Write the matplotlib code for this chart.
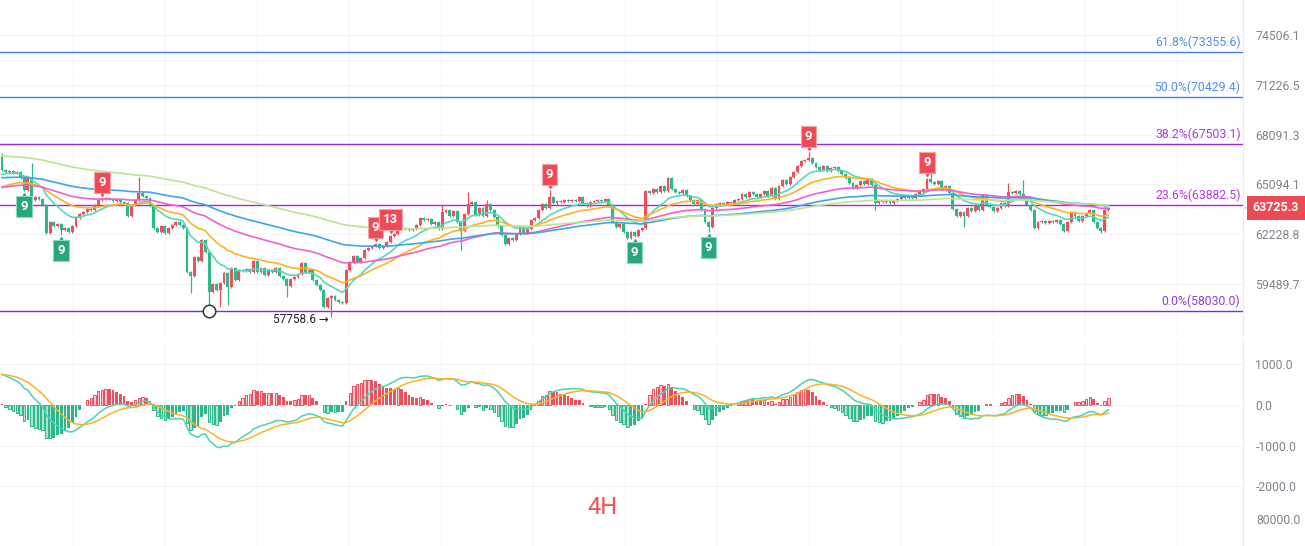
import numpy as np
import matplotlib.pyplot as plt
import matplotlib.transforms as mtransforms
from matplotlib.ticker import NullLocator

plt.rcParams['font.family'] = ['Roboto', 'DejaVu Sans']

# ---- data ----
open0 = 66730
closes = [
    65950, 65830, 65890, 65770, 65830, 65470, 64760, 65470, 64180, 64360,
    64240, 63890, 62300, 62920, 62690, 62800, 62460, 62580, 62350, 62690,
    63150, 63380, 63490, 63660, 63600, 63890, 64180, 64240, 64300, 64240,
    64120, 64180, 64070, 64010, 63260, 63890, 64180, 64590, 64410, 64300,
    63830, 62580, 62350, 62690, 62300, 62580, 62750, 62920, 62750, 62580,
    60140, 59920, 60960, 60740, 61900, 61230, 59060, 59490, 59170, 59540,
    60080, 59330, 60350, 59700, 60250, 60190, 60300, 60140, 60740, 60140,
    60350, 59970, 60250, 60140, 60350, 59920, 59760, 59380, 59760, 59870,
    60030, 60630, 60140, 60250, 59700, 59430, 59170, 58260, 58740, 58850,
    58630, 58530, 58470, 60250, 60680, 61010, 60680, 60900, 61350, 61460,
    61570, 61680, 61460, 61570, 61790, 62130, 62240, 62690, 62580, 62520,
    62460, 62520, 62750, 63150, 63030, 63090, 62800, 62920, 62520, 63490,
    63600, 63260, 63550, 62920, 62410, 63380, 63950, 64070, 63320, 63720,
    63260, 63950, 63600, 63200, 62690, 62180, 61680, 62010, 61900, 62240,
    62690, 62300, 62520, 63030, 63150, 63600, 63950, 63720, 64360, 64010,
    64120, 64070, 64180, 64120, 64180, 64120, 64360, 64010, 63830, 64070,
    64120, 64180, 64120, 64240, 63890, 62920, 62630, 62800, 62350, 62010,
    62350, 62130, 62460, 62580, 64710, 64590, 64820, 64650, 65000, 64710,
    65470, 64820, 64650, 64590, 64760, 64410, 64180, 63950, 64180, 63600,
    62920, 62630, 63720, 63950, 64010, 63950, 64070, 64010, 64180, 64240,
    64530, 64360, 64650, 64530, 64360, 64530, 64710, 64410, 64880, 64240,
    65000, 65350, 65120, 65530, 65830, 66190, 66490, 66550, 66670, 66370,
    66130, 65950, 66190, 65890, 66070, 66130, 65890, 65710, 65470, 65180,
    64880, 65060, 65290, 65120, 65410, 65060, 64010, 64180, 64070, 64180,
    64010, 64120, 64240, 64360, 64300, 64410, 64300, 64530, 64650, 64820,
    65410, 65240, 65120, 65290, 64760, 65000, 64590, 63660, 63260, 63490,
    63260, 63720, 63550, 63890, 63600, 64470, 63890, 63780, 63550, 63720,
    64010, 63830, 64650, 64590, 64710, 64530, 64240, 63890, 63600, 62580,
    62920, 62980, 62860, 62980, 62920, 63030, 62800, 62410, 62920, 63490,
    63260, 62980, 63260, 63430, 63600, 62920, 62580, 62410, 63600, 63725.3,
]
# long wicks (candle index -> price)
highs = {0: 66960, 8: 66370, 37: 65530, 119: 63890, 126: 64650, 131: 64180,
         148: 64760, 180: 65530, 218: 67030, 251: 65770, 272: 65180,
         276: 65350, 298: 63830}
lows = {16: 62180, 51: 59000, 56: 58260, 59: 58260, 61: 58370, 77: 58790,
        89: 57758.6, 124: 61345, 191: 62350, 236: 63600, 260: 62630,
        297: 62300}
low_label = "57758.6"
last_label = "63725.3"

# fibonacci retracement
fib_low, fib_high = 58030.0, 82828.7
fib_ratios = [0.618, 0.5, 0.382, 0.236, 0.0]
fib_colors = ['#3f82ee', '#3f82ee', '#9c27d6', '#b41fe6', '#7b2be0']
fib_anchor = 56

# TD sequential counts
td_sell_idx = [27, 101, 105, 148, 218, 250]
td_sell_txt = ['9', '9', '13', '9', '9', '9']
td_buy_idx = [6, 16, 171, 191]

# EMA periods / seeds at the left edge
ma_periods = [12, 26, 60, 99, 144]
ma_seeds = [65650, 64864, 64880, 65480, 66800]
ma_colors = ['#55d8bc', '#ffb224', '#f062c6', '#3ea6e6', '#bde396']
dea_seed = 737

price_ticks = [74506.1, 71226.5, 68091.3, 65094.1, 62228.8, 59489.7]
macd_ticks = [1000, 0, -1000, -2000]

UP = '#ef4f5c'
DN = '#2cb88b'


def ema(vals, n, seed):
    a = 2.0 / (n + 1)
    out = []
    e = seed
    for v in vals:
        e = e + a * (v - e)
        out.append(e)
    return np.array(out)


c = np.array(closes, dtype=float)
n = len(c)
idx = np.arange(n)
o = np.r_[open0, c[:-1]]
pad = 50
hi = np.maximum(o, c) + pad
lo = np.minimum(o, c) - pad
for k, v in highs.items():
    hi[k] = v
for k, v in lows.items():
    lo[k] = v
up = c >= o
cols = np.where(up, UP, DN)

W, H = 1305, 546
fig = plt.figure(figsize=(W / 100, H / 100), dpi=100)
fig.patch.set_facecolor('white')
plot_w = 1243 / W
ax = fig.add_axes([0, 1 - 335 / H, plot_w, 335 / H])
ax2 = fig.add_axes([0, 0, plot_w, 206 / H])

px = 3.7
xmin, xmax = -2 / px, (1243 - 2) / px

# price y-limits from pixel mapping (log scale)
k_px = 0.000904
ax.set_yscale('log')
ax.set_ylim(74506.1 * np.exp(-k_px * 300), 74506.1 * np.exp(k_px * 35))
ax.set_xlim(xmin, xmax)

vgrid = np.arange((73 - 2) / px, xmax, 92 / px)
for a_ in (ax, ax2):
    for s in ['top', 'left', 'bottom']:
        a_.spines[s].set_visible(False)
    a_.spines['right'].set_color('#ececec')
    a_.set_xticks([])
    for xv in vgrid:
        a_.axvline(xv, color='#f5f5f5', lw=0.8, zorder=0)
    a_.yaxis.tick_right()
    a_.tick_params(axis='y', length=0, pad=9, labelsize=8.8, labelcolor='#80858c')

ax.yaxis.set_minor_locator(NullLocator())
ax.set_yticks(price_ticks)
ax.set_yticklabels([f'{t:.1f}' for t in price_ticks])
for t in price_ticks:
    ax.axhline(t, color='#f4f4f4', lw=0.8, zorder=0)

# fib lines
btrans = mtransforms.blended_transform_factory(ax.transAxes, ax.transData)
for r, col in zip(fib_ratios, fib_colors):
    lvl = fib_low + r * (fib_high - fib_low)
    ax.axhline(lvl, color=col, lw=1.0, zorder=1)
    ax.annotate(f'{r * 100:.1f}%({lvl:.1f})', xy=(0.998, lvl), xycoords=btrans,
                xytext=(0, 2.5), textcoords='offset points', ha='right', va='bottom',
                fontsize=8.8, color=col, alpha=0.9)

# candles
ax.vlines(idx, lo, hi, colors=cols, lw=0.9, zorder=2)
body = np.maximum(np.abs(c - o), 20)
ax.bar(idx, body, bottom=np.minimum(o, c), width=0.76, color=cols, lw=0, zorder=2)

# moving averages
for p, s, col in zip(ma_periods, ma_seeds, ma_colors):
    ax.plot(idx, ema(c, p, s), color=col, lw=1.2, zorder=3)

# fib anchor circle
ax.plot([fib_anchor], [fib_low], marker='o', ms=9, mfc='white', mec='#333333', mew=1.1,
        zorder=5)

# lowest price label
lo_i = int(np.argmin(lo))
ax.annotate(low_label + ' \u2192', xy=(lo_i, lo[lo_i]), xytext=(-2, -2),
            textcoords='offset points', ha='right', va='center', fontsize=8.5,
            color='#222222', zorder=6)

# last price tag
ax.annotate(last_label, xy=(1.0, c[-1]), xycoords=btrans, xytext=(7, 0),
            textcoords='offset points', ha='left', va='center', fontsize=9,
            fontweight='bold', color='white', annotation_clip=False,
            bbox=dict(boxstyle='square,pad=0.45', fc='#ec4a55', ec='none'))
ax.annotate('', xy=(1.0, c[-1]), xycoords=btrans, xytext=(4, 0),
            textcoords='offset points', annotation_clip=False,
            arrowprops=dict(arrowstyle='-', color='#ec4a55', lw=1))

# TD markers
for i, t in zip(td_sell_idx, td_sell_txt):
    tri = mtransforms.offset_copy(ax.transData, fig=fig, x=0, y=3.5, units='points')
    ax.plot([i], [hi[i]], marker='v', ms=4.5, color='#ef4a56', transform=tri, zorder=6)
    ax.annotate(t, xy=(i, hi[i]), xytext=(0, 11), textcoords='offset points',
                ha='center', va='center', fontsize=9.5, fontweight='bold', color='white',
                zorder=7, bbox=dict(boxstyle='square,pad=0.3', fc='#ef4a56', ec='#f6a3aa',
                                    lw=0.8))
for i in td_buy_idx:
    tri = mtransforms.offset_copy(ax.transData, fig=fig, x=0, y=-3.5, units='points')
    ax.plot([i], [lo[i]], marker='^', ms=4.5, color='#27a67f', transform=tri, zorder=6)
    ax.annotate('9', xy=(i, lo[i]), xytext=(0, -11), textcoords='offset points',
                ha='center', va='center', fontsize=9.5, fontweight='bold', color='white',
                zorder=7, bbox=dict(boxstyle='square,pad=0.3', fc='#27a67f', ec='#8fd8c0',
                                    lw=0.8))

# MACD
dif = ema(c, 12, ma_seeds[0]) - ema(c, 26, ma_seeds[1])
dea = ema(dif, 9, dea_seed)
hist = 2 * (dif - dea)
ax2.set_xlim(xmin, xmax)
ax2.set_ylim(-3464, 1590)
ax2.set_yticks(macd_ticks)
ax2.set_yticklabels([f'{t:.1f}' for t in macd_ticks])
for t in macd_ticks:
    ax2.axhline(t, color='#f4f4f4', lw=0.8, zorder=0)
grow = np.r_[False, np.abs(hist[1:]) > np.abs(hist[:-1])]
for i in range(n):
    h = hist[i]
    base = UP if h >= 0 else DN
    light = '#fbc9ce' if h >= 0 else '#a9e6d2'
    if grow[i]:
        ax2.bar(i, h, width=0.66, color=light, edgecolor=base, lw=0.7, zorder=2)
    else:
        ax2.bar(i, h, width=0.74, color=base, lw=0, zorder=2)
ax2.plot(idx, dif, color='#49d3b2', lw=1.1, zorder=3)
ax2.plot(idx, dea, color='#fbb324', lw=1.1, zorder=3)

fig.text(1256 / W, 1 - 521 / H, '80000.0', fontsize=8.8, color='#80858c', va='center')
fig.text(603 / W, 1 - 507 / H, '4H', fontsize=17, color='#f05252', ha='center',
         va='center')

fig.savefig('out.png', dpi=100, facecolor='white')
